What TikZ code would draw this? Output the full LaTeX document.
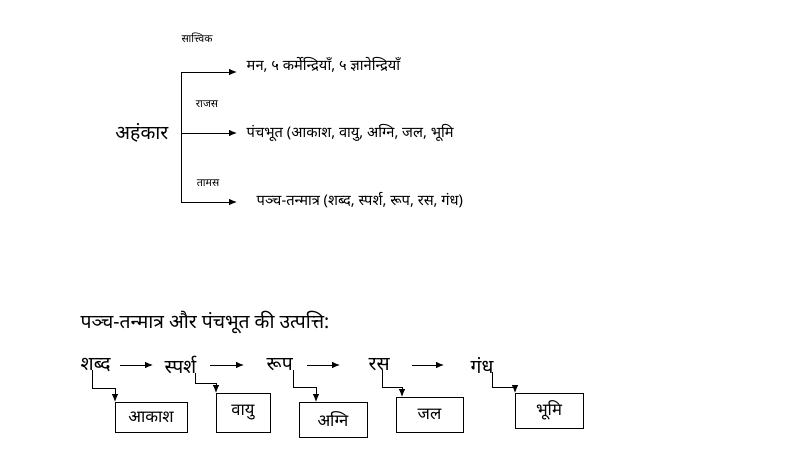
\documentclass[tikz,border=0pt]{standalone}
\usepackage{fontspec}
\newfontfamily\hindi[Script=Devanagari]{Noto Sans}
\usetikzlibrary{arrows.meta,positioning}

\tikzset{
    txt/.style={font=\hindi\fontsize{11}{13}\selectfont, inner sep=1pt},
    big/.style={font=\hindi\fontsize{14.5}{16}\selectfont, inner sep=1pt},
    guna/.style={font=\hindi\fontsize{8}{9}\selectfont, inner sep=1pt},
    tattva/.style={draw, font=\hindi\fontsize{12.5}{14}\selectfont, anchor=north west,
        inner sep=0pt, outer sep=0pt},
    arr/.style={-{Latex[length=6pt,width=4.8pt]}},
}

\begin{document}
\begin{tikzpicture}[x=0.75pt,y=-0.75pt,line width=0.6pt]
    \useasboundingbox (0,0) rectangle (797,457);
    % ahankara and its three branches
    \node[font=\hindi\fontsize{14.5}{16}\selectfont, anchor=east, inner sep=1pt] (ahan) at (170,133) {अहंकार};
    \coordinate (top) at (181,72);
    \coordinate (bot) at (181,202);
    \coordinate (mid) at (181,133);
    \coordinate (a1) at (237,72);
    \coordinate (a2) at (237,133);
    \coordinate (a3) at (237,202);
    \node[guna] (sat) at (197,38) {सात्त्विक};
    \node[guna] (raj) at (207,104) {राजस};
    \node[guna] (tam) at (208,183) {तामस};
    \node[txt, anchor=west] (man) at (245,65) {मन, ५ कर्मेन्द्रियाँ, ५ ज्ञानेन्द्रियाँ};
    \node[txt, anchor=west] (bhut) at (245,133) {पंचभूत (आकाश, वायु, अग्नि, जल, भूमि};
    \node[txt, anchor=west] (tanm) at (255,200) {पञ्च-तन्मात्र (शब्द, स्पर्श, रूप, रस, गंध)};
    \draw (top) -- (bot);
    \draw[arr] (top) -- (a1);
    \draw[arr] (mid) -- (a2);
    \draw[arr] (bot) -- (a3);

    % origin of the tanmatras and bhutas
    \node[big, anchor=west] (head) at (79,322) {पञ्च-तन्मात्र और पंचभूत की उत्पत्ति:};
    \node[big, anchor=west] (w1) at (79,365) {शब्द};
    \node[big, anchor=west] (w2) at (163,365) {स्पर्श};
    \node[big, anchor=west] (w3) at (265,365) {रूप};
    \node[big, anchor=west] (w4) at (367,365) {रस};
    \node[big, anchor=west] (w5) at (469,365) {गंध};
    \draw[arr] (120,365) -- (153,365);
    \draw[arr] (210,365) -- (244,365);
    \draw[arr] (307,365) -- (340,365);
    \draw[arr] (412,365) -- (444,365);

    \node[tattva, minimum width=54pt, minimum height=22.5pt] (b1) at (115,402) {आकाश};
    \node[tattva, minimum width=40.5pt, minimum height=29.25pt] (b2) at (216,393) {वायु};
    \node[tattva, minimum width=51pt, minimum height=26.25pt] (b3) at (299,402) {अग्नि};
    \node[tattva, minimum width=50.25pt, minimum height=26.25pt] (b4) at (396,397) {जल};
    \node[tattva, minimum width=51pt, minimum height=26.25pt] (b5) at (515,393) {भूमि};

    \draw[arr] ([shift={(13,-3)}]w1.south west) |- ([shift={(0,-14)}]b1.north west) -- (b1.north west);
    \draw[arr] ([shift={(-3,-3)}]w2.south east) |- ([shift={(0,-10)}]b2.north west) -- (b2.north west);
    \draw[arr] ([shift={(-1,-3)}]w3.south east) |- ([shift={(17,-15)}]b3.north west) -- ([shift={(17,0)}]b3.north west);
    \draw[arr] ([shift={(3,-3)}]w4.south) |- ([shift={(6,-10)}]b4.north west) -- ([shift={(6,0)}]b4.north west);
    \draw[arr] ([shift={(-3,-3)}]w5.south east) |- ([shift={(0,-6)}]b5.north west) -- (b5.north west);
\end{tikzpicture}
\end{document}
